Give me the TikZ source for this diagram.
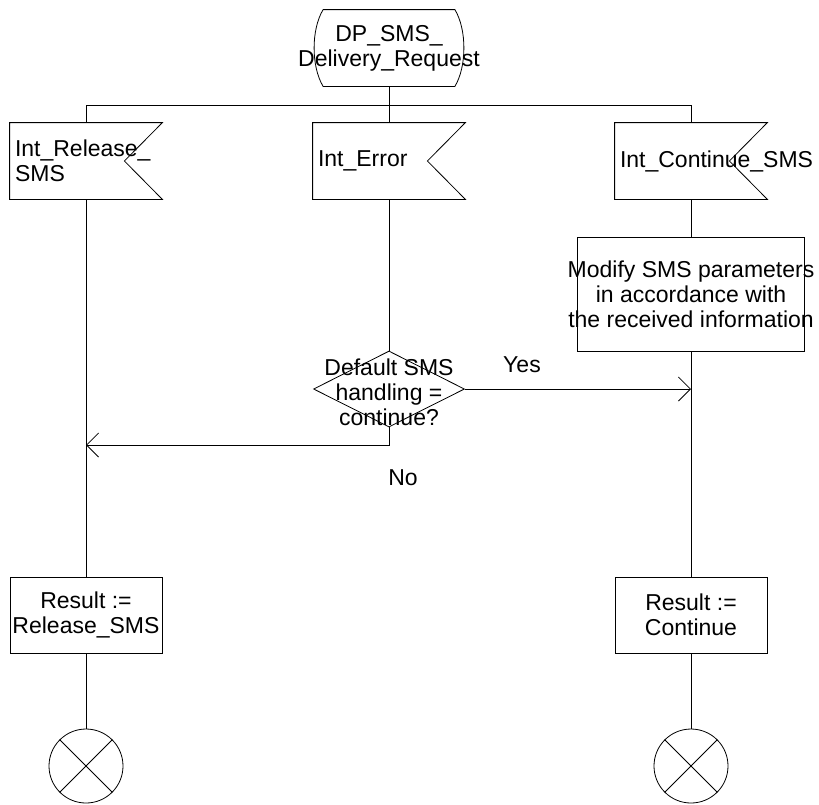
\documentclass[tikz,border=0pt]{standalone}
\usepackage{fontspec}
\setmainfont{Liberation Sans}
\usetikzlibrary{arrows.meta,shapes.geometric}

% outline of an input signal (notch on the right)
\newcommand\sigflag[1]{%
  \draw (#1.north west) -- (#1.north east) -- ([xshift=-38pt]#1.east)
        -- (#1.south east) -- (#1.south west) -- cycle;}

\begin{document}
\begin{tikzpicture}[x=1pt, y=-1pt, line width=0.8pt,
            >={Straight Barb[length=12pt,width=24pt,line width=0.8pt]},
            every node/.style={font=\fontsize{23}{25}\selectfont},
            sigbox/.style={minimum height=76pt, text width=142pt, inner sep=5pt, align=left},
            taskbox/.style={draw, minimum width=152pt, minimum height=76pt, inner sep=1pt, align=center},
            stopc/.style={draw, circle, minimum size=74pt, inner sep=0pt}]
            \useasboundingbox (0,0) rectangle (819,804);

            % start state
            \node[minimum width=149pt, minimum height=76pt, inner sep=0pt,
                  label={[align=center]center:DP\_SMS\_\\Delivery\_Request}] (dpreq) at (389,48) {};
            \draw ([xshift=9pt]dpreq.north west) -- ([xshift=-9pt]dpreq.north east)
                  .. controls ([xshift=3pt,yshift=-20pt]dpreq.north east) and ([xshift=3pt,yshift=20pt]dpreq.south east) .. ([xshift=-9pt]dpreq.south east)
                  -- ([xshift=9pt]dpreq.south west)
                  .. controls ([xshift=-3pt,yshift=20pt]dpreq.south west) and ([xshift=-3pt,yshift=-20pt]dpreq.north west) .. ([xshift=9pt]dpreq.north west);

            % input signals
            \node[sigbox] (relsig) at (86,161) {Int\_Release\_\\SMS};
            \node[sigbox] (errsig) at (389,161) {Int\_Error};
            \node[sigbox] (contsig) at (691,161) {Int\_Continue\_SMS};
            \sigflag{relsig}
            \sigflag{errsig}
            \sigflag{contsig}

            % tasks and decision
            \node[draw, minimum width=227pt, minimum height=114pt, inner sep=0pt,
                  label={[align=center]center:Modify SMS parameters\\in accordance with\\the received information}] (modify) at (691,294) {};
            \node[draw, diamond, minimum width=151pt, minimum height=76pt, inner sep=0pt,
                  label={[align=center,yshift=-3pt]center:Default SMS\\handling =\\continue?}] (dflt) at (389,389) {};
            \node[taskbox] (resrel) at (86,615) {Result :=\\Release\_SMS};
            \node[taskbox] (rescont) at (691,615) {Result :=\\Continue};

            % stops
            \node[stopc] (stopl) at (86,766) {};
            \node[stopc] (stopr) at (691,766) {};
            \foreach \s in {stopl,stopr} {
                \draw (\s.north west) -- (\s.south east);
                \draw (\s.north east) -- (\s.south west);
            }

            % branch labels
            \node (yes) at (522,365) {Yes};
            \node (no) at (403,478) {No};

            % connectors
            \coordinate (busl) at (86,105);
            \coordinate (busr) at (691,105);
            \coordinate (nojoin) at (86,445);
            \draw (busl) -- (busr);
            \draw (dpreq.south) -- (dpreq.south |- busl);
            \draw (busl) -- (relsig.north);
            \draw (errsig.north |- busl) -- (errsig.north);
            \draw (busr) -- (contsig.north);
            \draw (contsig.south) -- (modify.north);
            \draw (errsig.south) -- (dflt.north);
            \draw[->] (dflt.east) -- (dflt.east -| modify.south);
            \draw[->] (dflt.south) |- (nojoin);
            \draw (modify.south) -- (rescont.north);
            \draw (relsig.south) -- (resrel.north);
            \draw (resrel.south) -- (stopl.north);
            \draw (rescont.south) -- (stopr.north);
        \end{tikzpicture}
\end{document}
